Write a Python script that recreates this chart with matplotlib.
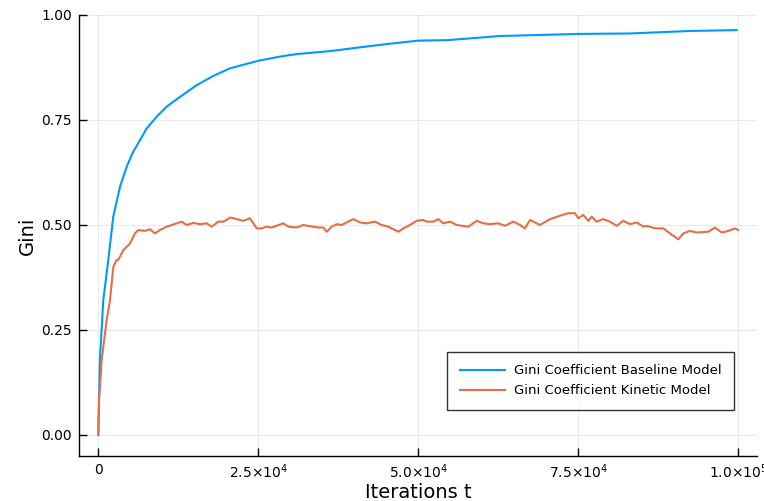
import matplotlib
matplotlib.use("Agg")
import matplotlib.pyplot as plt
from matplotlib.ticker import FixedLocator

# ---- data ----
baseline_t = [0, 250, 780, 1560, 2340, 3390, 4440, 5470, 6520, 7560, 9130,
              10690, 12770, 15380, 17970, 20580, 25000, 28390, 31000, 36200,
              44020, 48190, 50000, 54440, 62770, 75270, 83080, 92450, 99750]
baseline_gini = [0.0, 0.18, 0.321, 0.417, 0.52, 0.591, 0.639, 0.675, 0.702, 0.73, 0.758,
                 0.782, 0.805, 0.833, 0.855, 0.873, 0.891, 0.901, 0.907, 0.914,
                 0.929, 0.936, 0.939, 0.940, 0.950, 0.955, 0.956, 0.962, 0.964]

kinetic_t = [0, 110, 530, 1310, 1830, 2340, 2870, 3125, 3900, 4950, 5730, 6250,
             7300, 8080, 8860, 9640, 10690, 12250, 13030, 13810, 14840, 15890,
             16930, 17720, 18750, 19530, 20060, 20580, 21630, 22660, 23700, 24220,
             24750, 25530, 26310, 27090, 28910, 29690, 31000, 32030, 33080, 34380,
             35160, 35690, 36470, 37250, 38030, 39060, 39840, 40890, 41940, 43230,
             44280, 45310, 46360, 46880, 47660, 48700, 49750, 50780, 51310, 52340,
             53130, 53910, 54950, 56000, 57810, 59130, 60160, 61200, 62500, 63550,
             64840, 65890, 66670, 67450, 69000, 70580, 72140, 73440, 74480, 75000,
             75780, 76560, 77090, 77870, 78910, 79950, 81000, 82030, 83080, 84130,
             85160, 85690, 86980, 88280, 89330, 90630, 91410, 92450, 93500, 95310,
             96360, 97410, 98440, 99480, 100000]
kinetic_gini = [0.0, 0.083, 0.179, 0.274, 0.321, 0.40, 0.417, 0.417, 0.44, 0.456, 0.48, 0.488,
                0.486, 0.49, 0.48, 0.488, 0.496, 0.504, 0.508, 0.5, 0.505, 0.502,
                0.504, 0.496, 0.508, 0.508, 0.512, 0.518, 0.514, 0.51, 0.516, 0.504,
                0.492, 0.492, 0.496, 0.494, 0.504, 0.496, 0.494, 0.5, 0.497, 0.494,
                0.494, 0.484, 0.496, 0.502, 0.5, 0.508, 0.514, 0.506, 0.504, 0.508,
                0.5, 0.496, 0.488, 0.484, 0.492, 0.5, 0.51, 0.512, 0.508, 0.508,
                0.514, 0.504, 0.508, 0.5, 0.496, 0.51, 0.504, 0.502, 0.504, 0.498,
                0.508, 0.5, 0.492, 0.512, 0.5, 0.514, 0.522, 0.528, 0.528, 0.516,
                0.524, 0.51, 0.52, 0.508, 0.514, 0.508, 0.498, 0.51, 0.502, 0.506,
                0.496, 0.498, 0.492, 0.492, 0.48, 0.466, 0.48, 0.486, 0.482, 0.484,
                0.494, 0.482, 0.486, 0.492, 0.488]

xtick_values = [0, 25000, 50000, 75000, 100000]
xtick_labels = ["0", r"$2.5{\times}10^{4}$", r"$5.0{\times}10^{4}$",
                r"$7.5{\times}10^{4}$", r"$1.0{\times}10^{5}$"]
ytick_values = [0.0, 0.25, 0.5, 0.75, 1.0]
ytick_labels = ["0.00", "0.25", "0.50", "0.75", "1.00"]

series_labels = ["Gini Coefficient Baseline Model", "Gini Coefficient Kinetic Model"]
colors = ["#009AFA", "#E36F47"]

plt.rcParams["font.family"] = ["DejaVu Sans"]
plt.rcParams["mathtext.fontset"] = "dejavusans"

fig = plt.figure(figsize=(7.64, 5.01), dpi=100)
ax = fig.add_axes([79 / 764, (501 - 455.7) / 501, (757 - 79) / 764, (455.7 - 15) / 501])

ax.plot(baseline_t, baseline_gini, color=colors[0], lw=1.5, label=series_labels[0])
ax.plot(kinetic_t, kinetic_gini, color=colors[1], lw=1.5, label=series_labels[1])

ax.set_xlim(-3016, 102920)
ax.set_ylim(-0.0493, 1.0)

ax.xaxis.set_major_locator(FixedLocator(xtick_values))
ax.set_xticklabels(xtick_labels)
ax.yaxis.set_major_locator(FixedLocator(ytick_values))
ax.set_yticklabels(ytick_labels)

ax.tick_params(direction="in", length=6, width=1, labelsize=10, color="black", pad=5)
ax.grid(True, color="black", alpha=0.1, lw=0.6)
for s in ["top", "right"]:
    ax.spines[s].set_visible(False)
for s in ["left", "bottom"]:
    ax.spines[s].set_linewidth(1)
    ax.spines[s].set_color("black")

ax.set_xlabel("Iterations t", fontsize=14, labelpad=1)
ax.set_ylabel("Gini", fontsize=14, labelpad=3)

leg = ax.legend(loc="upper right", bbox_to_anchor=(0.966, 0.236), borderaxespad=0,
                fontsize=9.5, frameon=True, fancybox=False, handlelength=3.4,
                handletextpad=0.7, borderpad=0.95, labelspacing=0.55)
leg.get_frame().set_edgecolor("black")
leg.get_frame().set_linewidth(1)

fig.savefig("out.png", dpi=100)
